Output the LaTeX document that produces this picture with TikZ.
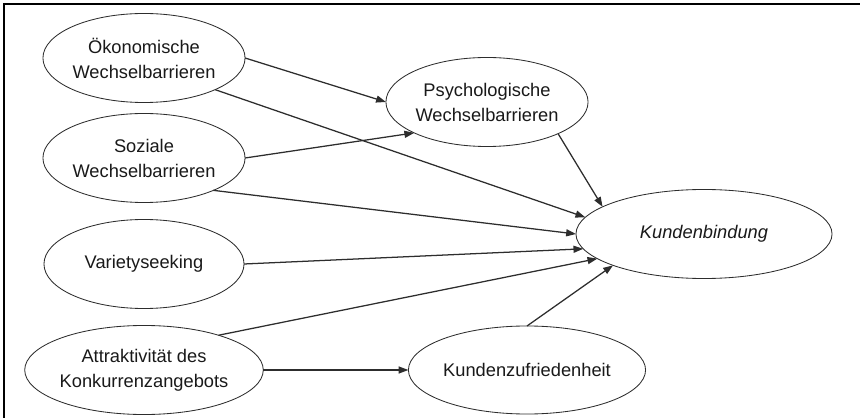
\documentclass[tikz,border=0pt]{standalone}
\usepackage{fontspec}
\setmainfont{Liberation Sans}
\usetikzlibrary{arrows.meta,shapes.geometric}
\definecolor{LineGray}{RGB}{45,45,45}
\tikzset{
	>={Triangle[length=7pt,width=5pt]},
	frame/.style={black, line width=0.9pt},
	construct/.style={ellipse, draw=LineGray, line width=0.6pt, inner sep=0pt, outer sep=0pt,
		minimum width=5cm, minimum height=2.225cm, align=center, text=black!90,
		font=\fontsize{13}{17.8}\selectfont},
	path/.style={LineGray, line width=0.9pt, ->},
}
\begin{document}
\begin{tikzpicture}[x=0.025cm, y=-0.025cm]
	\useasboundingbox (0,0) rectangle (860,418);
	\draw[frame] (860,4) -- (4,4) -- (4,418);
	
	% exogenous constructs
	\node[construct] (oekon) at (144,58) {Ökonomische\\Wechselbarrieren};
	\node[construct] (sozial) at (144,158) {Soziale\\Wechselbarrieren};
	\node[construct] (variety) at (144,264) {Varietyseeking};
	\node[construct] (attrakt) at (144,370) {Attraktivität des\\Konkurrenzangebots};
	
	% mediators and target
	\node[construct] (psych) at (487,102) {Psychologische\\Wechselbarrieren};
	\node[construct, minimum width=4.925cm, minimum height=2.2cm] (zufried) at (527,370) {Kundenzufriedenheit};
	\node[construct, minimum width=6.4cm] (bindung) at (704,234) {\itshape Kundenbindung};
	
	% paths
	\draw[path] (oekon.east) -- (psych.west);
	\draw[path] (sozial.east) -- (psych.203);
	\draw[path] (oekon.-24) -- (bindung.172);
	\draw[path] (sozial.-25) -- (bindung.180);
	\draw[path] (variety.east) -- (bindung.187.5);
	\draw[path] (attrakt.25.5) -- (bindung.193.5);
	\draw[path] (attrakt.east) -- (zufried.west);
	\draw[path] (psych.-24) -- (bindung.165);
	\draw[path] (zufried.north) -- (bindung.199.5);
\end{tikzpicture}
\end{document}
